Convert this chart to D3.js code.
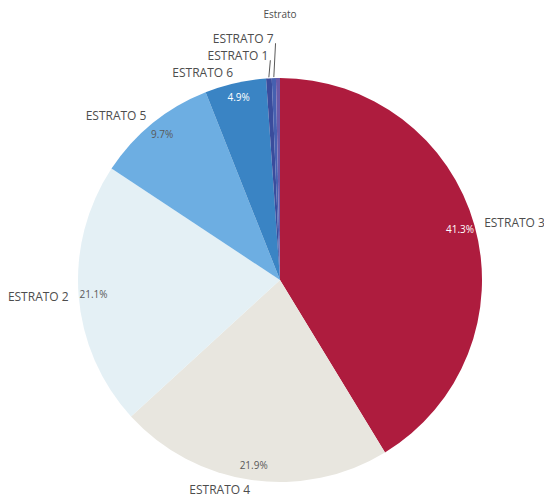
<!DOCTYPE html>
<html lang="es">
<head>
<meta charset="UTF-8">
<script src="https://cdn.jsdelivr.net/npm/d3@7"></script>
<style>
  body { margin: 0; background: #fff; }
  .lbl { font-family: 'Open Sans', sans-serif; font-size: 12px; fill: #4d4d4d; }
  .pct { font-family: 'Open Sans', sans-serif; font-size: 10px; }
</style>
</head>
<body>
<div id="chart"></div>
<script>
// slices clockwise from 12 o'clock
var categories = ["ESTRATO 3", "ESTRATO 4", "ESTRATO 2", "ESTRATO 5", "ESTRATO 6", "ESTRATO 1", "ESTRATO 7", ""];
var values = [41.3, 21.9, 21.1, 9.7, 4.9, 0.45, 0.33, 0.32];
var colors = ["#ae1c3e", "#e8e6df", "#e4f0f5", "#6daee2", "#3a84c4", "#3a4c9c", "#4660b0", "#6a5aa8"];
var title = "Estrato";

var width = 544, height = 497;
var cx = 280, cy = 280, radius = 202;

var svg = d3.select("#chart").append("svg")
    .attr("width", width)
    .attr("height", height);

svg.append("text")
    .attr("class", "lbl")
    .attr("x", cx)
    .attr("y", 18)
    .attr("text-anchor", "middle")
    .style("font-size", "10px")
    .text(title);

var data = categories.map(function(c, i) {
  return {name: c, value: values[i], color: colors[i]};
});

var pie = d3.pie().sort(null).value(function(d) { return d.value; });
var arcs = pie(data);

var arc = d3.arc().innerRadius(0).outerRadius(radius);
var pctArc = d3.arc().innerRadius(187).outerRadius(187);

var g = svg.append("g").attr("transform", "translate(" + cx + "," + cy + ")");

g.selectAll("path.slice")
  .data(arcs)
  .enter().append("path")
    .attr("class", "slice")
    .attr("d", arc)
    .attr("fill", function(d) { return d.data.color; });

// percentage labels inside larger slices
g.selectAll("text.pct")
  .data(arcs.filter(function(d) { return d.data.value >= 3; }))
  .enter().append("text")
    .attr("class", "pct")
    .attr("transform", function(d) { return "translate(" + pctArc.centroid(d) + ")"; })
    .attr("text-anchor", "middle")
    .attr("dy", "0.35em")
    .attr("fill", function(d) { return d3.hsl(d.data.color).l < 0.6 ? "#fff" : "#595959"; })
    .text(function(d) { return d3.format(".1f")(d.data.value) + "%"; });

// outer labels, stacked when they collide
var labelR = 212, gap = 17;
var labels = arcs.filter(function(d) { return d.data.name !== ""; }).map(function(d) {
  var a = (d.startAngle + d.endAngle) / 2;
  return {d: d, a: a, x: Math.sin(a) * labelR, y: -Math.cos(a) * labelR, y0: -Math.cos(a) * labelR,
          left: Math.sin(a) < 0};
});

var leftSide = labels.filter(function(l) { return l.left; }).sort(function(p, q) { return q.y - p.y; });
for (var i = 1; i < leftSide.length; i++) {
  if (leftSide[i - 1].y - leftSide[i].y < gap) leftSide[i].y = leftSide[i - 1].y - gap;
}

labels.forEach(function(l) {
  var moved = Math.abs(l.y - l.y0) > 2;
  if (moved) {
    g.append("line")
      .attr("x1", Math.sin(l.a) * (radius + 1))
      .attr("y1", -Math.cos(l.a) * (radius + 1))
      .attr("x2", l.x + 2)
      .attr("y2", l.y + 4)
      .attr("stroke", "#595959")
      .attr("stroke-width", 1);
  }
  g.append("text")
    .attr("class", "lbl")
    .attr("x", l.x)
    .attr("y", l.y)
    .attr("dy", "0.35em")
    .attr("text-anchor", l.left ? "end" : "start")
    .text(l.d.data.name);
});
</script>
</body>
</html>
